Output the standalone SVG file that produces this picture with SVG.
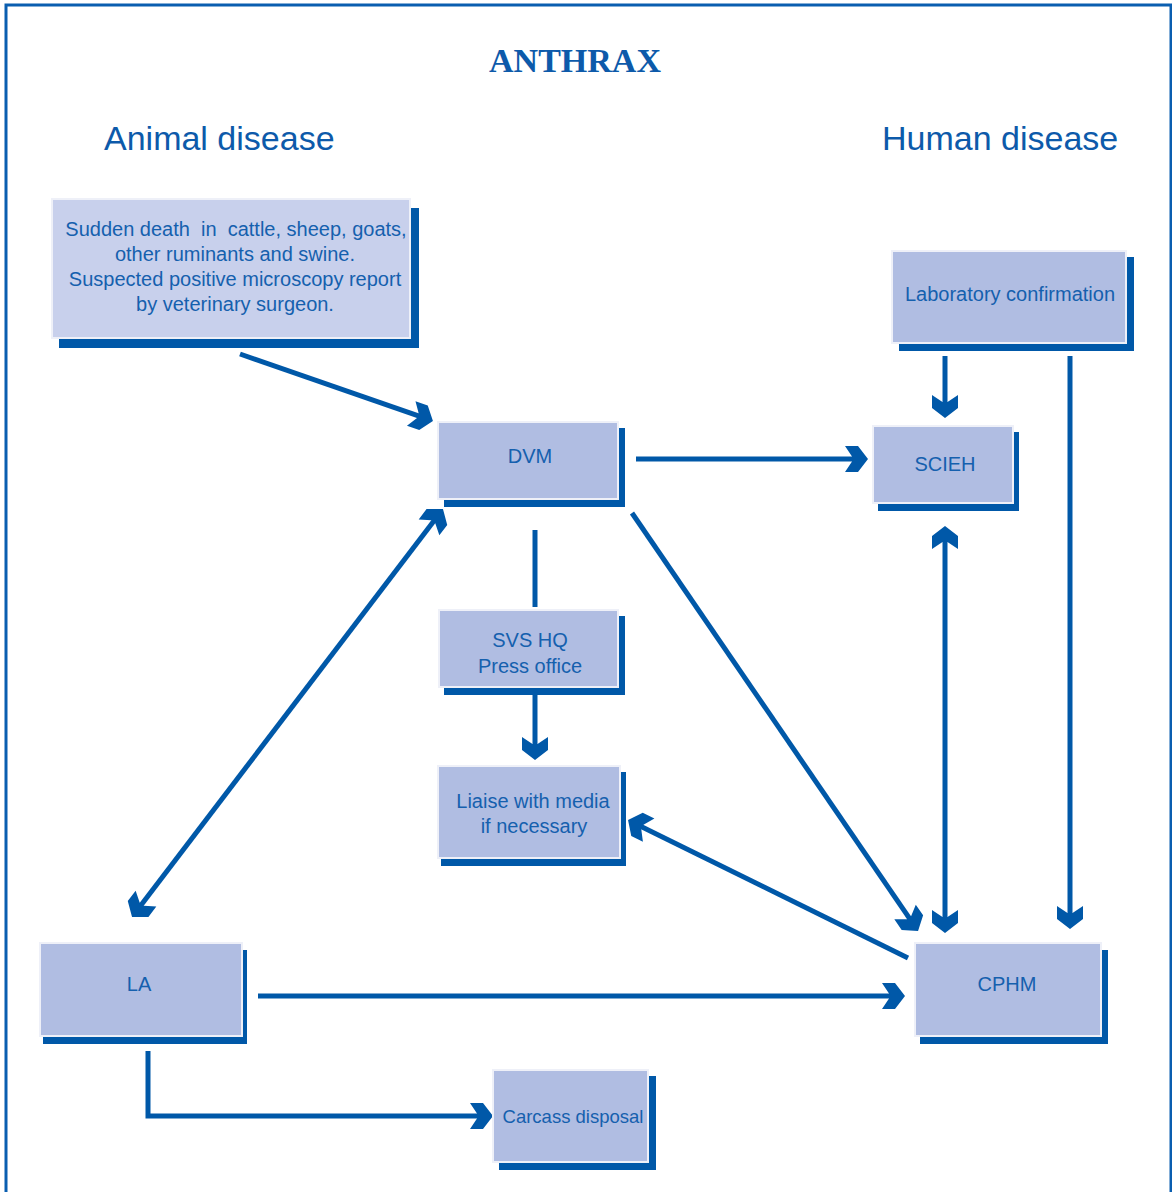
<svg xmlns="http://www.w3.org/2000/svg" width="1172" height="1192" viewBox="0 0 1172 1192">
<style>
.shadow{fill:#0058a8}
.box{fill:#b0bde2;stroke:#eef0f8;stroke-width:2}
.box1{fill:#c8d0ec;stroke:#eef0f8;stroke-width:2}
.t{font-family:"Liberation Sans",Arial,sans-serif;font-size:20px;fill:#1560ae;text-anchor:middle}
.h{font-family:"Liberation Sans",Arial,sans-serif;font-size:34px;fill:#0d5aaa}
.c{fill:none;stroke:#0058a8;stroke-width:5}
.a{marker-end:url(#ah)}
.b{marker-start:url(#ah);marker-end:url(#ah)}
</style>
<defs>
<marker id="ah" markerUnits="userSpaceOnUse" viewBox="-25 -14 27 28" refX="-10" refY="0" markerWidth="27" markerHeight="28" orient="auto-start-reverse">
<path d="M0,0 L-10,-13 L-23,-13 L-16,-2.5 L-16,2.5 L-23,13 L-10,13 Z" fill="#0058a8"/>
</marker>
</defs>
<rect width="1172" height="1192" fill="#ffffff"/>
<path d="M6,1192 V5 H1171 V1192" fill="none" stroke="#0a5eb0" stroke-width="3"/>
<text x="575" y="72" font-family="'Liberation Serif','Times New Roman',serif" font-weight="bold" font-size="34" fill="#0d5aaa" text-anchor="middle">ANTHRAX</text>
<text class="h" x="104" y="150">Animal disease</text>
<text class="h" x="882" y="150">Human disease</text>

<g id="connectors">
<path class="c a" d="M240,354 L423.5,417.7"/>
<path class="c a" d="M636,459 H858"/>
<path class="c a" d="M945,356 V408"/>
<path class="c a" d="M1070,356 V919"/>
<path class="c b" d="M945,536 V923"/>
<path class="c b" d="M436.9,517 L138.1,909"/>
<path class="c a" d="M632,513 L912.4,922.7"/>
<path class="c" d="M535,530 V607"/>
<path class="c a" d="M535,695 V750"/>
<path class="c a" d="M908,958 L637,824.4"/>
<path class="c a" d="M258,996 H895"/>
<path class="c a" d="M148,1051 V1116 H483"/>
</g>

<g id="sudden-death">
<rect class="shadow" x="59" y="208" width="360" height="140"/>
<rect class="box1" x="52" y="199" width="358" height="139"/>
<text class="t" xml:space="preserve"><tspan x="236" y="236">Sudden death  in  cattle, sheep, goats,</tspan><tspan x="235" y="261">other ruminants and swine.</tspan><tspan x="235" y="286">Suspected positive microscopy report</tspan><tspan x="235" y="311">by veterinary surgeon.</tspan></text>
</g>

<g id="dvm">
<rect class="shadow" x="444" y="428" width="181" height="79"/>
<rect class="box" x="438" y="422" width="180" height="77"/>
<text class="t" x="530" y="463">DVM</text>
</g>

<g id="lab">
<rect class="shadow" x="899" y="257" width="235" height="94"/>
<rect class="box" x="892" y="251" width="234" height="92"/>
<text class="t" x="1010" y="301">Laboratory confirmation</text>
</g>

<g id="scieh">
<rect class="shadow" x="878" y="432" width="141" height="79"/>
<rect class="box" x="873" y="426" width="140" height="77"/>
<text class="t" x="945" y="471">SCIEH</text>
</g>

<g id="svs">
<rect class="shadow" x="444" y="616" width="181" height="79"/>
<rect class="box" x="439" y="610" width="179" height="77"/>
<text class="t"><tspan x="530" y="647">SVS HQ</tspan><tspan x="530" y="673">Press office</tspan></text>
</g>

<g id="liaise">
<rect class="shadow" x="441" y="772" width="185" height="94"/>
<rect class="box" x="438" y="766" width="182" height="92"/>
<text class="t"><tspan x="533" y="808">Liaise with media</tspan><tspan x="534" y="833">if necessary</tspan></text>
</g>

<g id="cphm">
<rect class="shadow" x="920" y="950" width="188" height="94"/>
<rect class="box" x="915" y="943" width="186" height="93"/>
<text class="t" x="1007" y="991">CPHM</text>
</g>

<g id="la">
<rect class="shadow" x="43" y="950" width="204" height="94"/>
<rect class="box" x="40" y="943" width="202" height="93"/>
<text class="t" x="139" y="991">LA</text>
</g>

<g id="carcass">
<rect class="shadow" x="499" y="1076" width="157" height="94"/>
<rect class="box" x="493" y="1070" width="155" height="92"/>
<text class="t" x="573" y="1123" style="font-size:18.5px">Carcass disposal</text>
</g>
</svg>
